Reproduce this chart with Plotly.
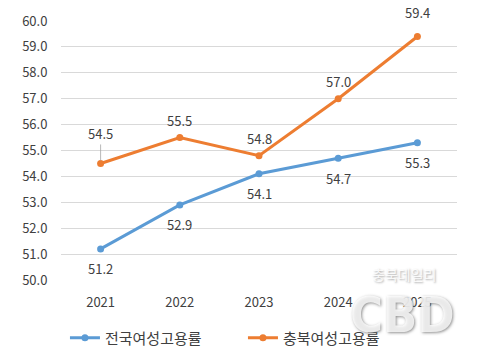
import plotly.graph_objects as go

years = ["2021", "2022", "2023", "2024", "2025"]
national = [51.2, 52.9, 54.1, 54.7, 55.3]
chungbuk = [54.5, 55.5, 54.8, 57.0, 59.4]
name_national = "전국여성고용률"
name_chungbuk = "충북여성고용률"
y_ticks = [50 + i for i in range(11)]

BLUE = "#5B9BD5"
ORANGE = "#ED7D31"
FONT = "Noto Sans CJK KR, Noto Sans, sans-serif"
TXT = "#404040"

fig = go.Figure()
fig.add_trace(go.Scatter(x=years, y=national, name=name_national, mode="lines+markers",
                         line=dict(color=BLUE, width=3), marker=dict(size=7, color=BLUE)))
fig.add_trace(go.Scatter(x=years, y=chungbuk, name=name_chungbuk, mode="lines+markers",
                         line=dict(color=ORANGE, width=3), marker=dict(size=7, color=ORANGE)))

ann = []
for i, v in enumerate(national):
    ann.append(dict(x=i, y=v, xref="x", yref="y", text=f"{v:.1f}", showarrow=False, yshift=-20,
                    font=dict(size=13, color=TXT, family=FONT)))
for i, v in enumerate(chungbuk):
    if i == 0:
        ann.append(dict(x=i, y=v, xref="x", yref="y", text=f"{v:.1f}", showarrow=True, arrowhead=0,
                        arrowwidth=0.8, arrowcolor="#A6A6A6", ax=0, ay=-30, standoff=3,
                        font=dict(size=13, color=TXT, family=FONT)))
    else:
        ann.append(dict(x=i, y=v, xref="x", yref="y", text=f"{v:.1f}", showarrow=False,
                        yshift=24 if i == 4 else 17,
                        font=dict(size=13, color=TXT, family=FONT)))

# watermark
ann.append(dict(xref="paper", yref="paper", x=0.865, y=0.025, text="충북데일리", showarrow=False,
                font=dict(size=14, color="rgba(255,255,255,0.85)", family=FONT, shadow="1px 1px 2px #999"),
                xanchor="center", yanchor="middle"))
ann.append(dict(xref="paper", yref="paper", x=0.862, y=-0.135, text="<b>CBD</b>", showarrow=False,
                font=dict(size=50, color="rgba(255,255,255,0.8)", family="DejaVu Sans Condensed, sans-serif",
                          shadow="1px 1px 3px #777"),
                xanchor="center", yanchor="middle"))

fig.update_layout(
    width=469, height=349,
    margin=dict(l=53, r=20, t=13, b=77, autoexpand=False),
    paper_bgcolor="white", plot_bgcolor="white",
    font=dict(family=FONT, size=13, color=TXT),
    showlegend=True,
    legend=dict(orientation="h", x=0.01, xanchor="left", y=-0.224, yanchor="middle",
                font=dict(size=15, color=TXT), itemwidth=30, entrywidth=133),
    annotations=ann,
    xaxis=dict(type="category", range=[-0.5, 4.5], showgrid=False, showline=False,
               ticks="outside", ticklen=10, tickcolor="rgba(0,0,0,0)",
               tickfont=dict(size=13, color=TXT)),
    yaxis=dict(range=[50, 60], tickvals=y_ticks, tickformat=".1f", showgrid=True,
               gridcolor="#D9D9D9", gridwidth=1, zeroline=False, showline=False,
               tickfont=dict(size=13, color=TXT), ticks="outside", ticklen=10,
               tickcolor="rgba(0,0,0,0)"),
)

fig.write_html("out.html")
